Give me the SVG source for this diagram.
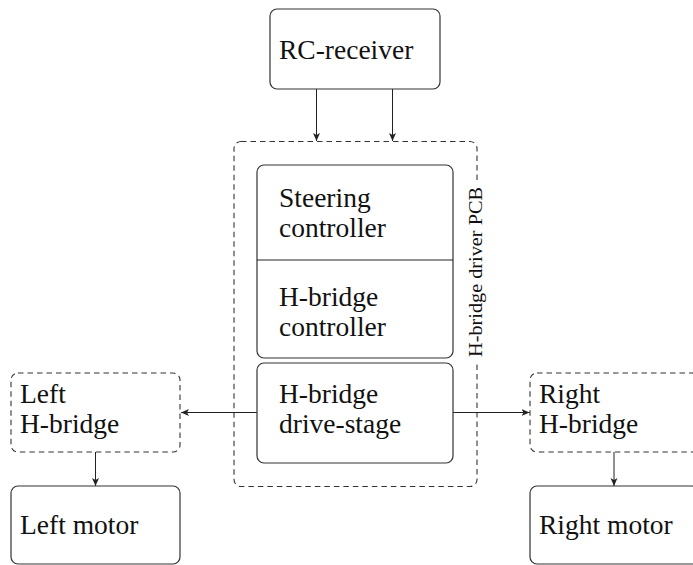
<svg xmlns="http://www.w3.org/2000/svg" width="693" height="565" viewBox="0 0 693 565">
<defs>
<style>
.box{fill:#fff;stroke:#333;stroke-width:1.2}
.dash{fill:none;stroke:#333;stroke-width:1.1;stroke-dasharray:5.5,4}
.t{font-family:'Liberation Serif', 'Times New Roman', serif;font-size:27.5px;fill:#111}
.lbl{font-family:'Liberation Serif', 'Times New Roman', serif;font-size:18px;fill:#111}
.ln{fill:none;stroke:#222;stroke-width:1}
</style>
<marker id="ah" markerUnits="userSpaceOnUse" markerWidth="10" markerHeight="8" refX="8" refY="3.5" orient="auto">
<path d="M0,0 L8,3.5 L0,7 L2,3.5 z" fill="#222"/>
</marker>
</defs>
<rect width="693" height="565" fill="#fff"/>
<g id="pcb">
<rect class="dash" x="234" y="141.5" width="243" height="345" rx="7"/>
<rect x="469" y="180" width="16" height="184" fill="#fff"/>
<text class="lbl" transform="translate(482,272) rotate(-90)" text-anchor="middle" textLength="170" lengthAdjust="spacingAndGlyphs">H-bridge driver PCB</text>
</g>
<g id="connectors">
<line class="ln" x1="316.5" y1="89" x2="316.5" y2="141" marker-end="url(#ah)"/>
<line class="ln" x1="392.5" y1="89" x2="392.5" y2="141" marker-end="url(#ah)"/>
<line class="ln" x1="257" y1="412.5" x2="181" y2="412.5" marker-end="url(#ah)"/>
<line class="ln" x1="453" y1="412.5" x2="529.5" y2="412.5" marker-end="url(#ah)"/>
<line class="ln" x1="95.5" y1="452" x2="95.5" y2="486" marker-end="url(#ah)"/>
<line class="ln" x1="614" y1="452" x2="614" y2="486" marker-end="url(#ah)"/>
</g>
<g id="rc-receiver">
<rect class="box" x="270" y="9" width="170" height="80" rx="7"/>
<text class="t" x="279" y="59">RC-receiver</text>
</g>
<g id="controllers">
<rect class="box" x="257" y="165" width="196" height="193" rx="7"/>
<line class="ln" x1="257" y1="260" x2="453" y2="260"/>
<text class="t" x="279" y="207">Steering</text>
<text class="t" x="279" y="237">controller</text>
<text class="t" x="279" y="306">H-bridge</text>
<text class="t" x="279" y="336">controller</text>
</g>
<g id="drive-stage">
<rect class="box" x="257" y="363" width="196" height="100" rx="7"/>
<text class="t" x="279" y="403">H-bridge</text>
<text class="t" x="279" y="433">drive-stage</text>
</g>
<g id="left-hbridge">
<rect class="dash" x="11" y="373" width="169" height="79" rx="7"/>
<text class="t" x="20" y="403">Left</text>
<text class="t" x="20" y="433">H-bridge</text>
</g>
<g id="right-hbridge">
<rect class="dash" x="530" y="373" width="169" height="79" rx="7"/>
<text class="t" x="539" y="403">Right</text>
<text class="t" x="539" y="433">H-bridge</text>
</g>
<g id="left-motor">
<rect class="box" x="11" y="486" width="169" height="78" rx="7"/>
<text class="t" x="20" y="534">Left motor</text>
</g>
<g id="right-motor">
<rect class="box" x="530" y="486" width="169" height="78" rx="7"/>
<text class="t" x="539" y="534">Right motor</text>
</g>
</svg>
